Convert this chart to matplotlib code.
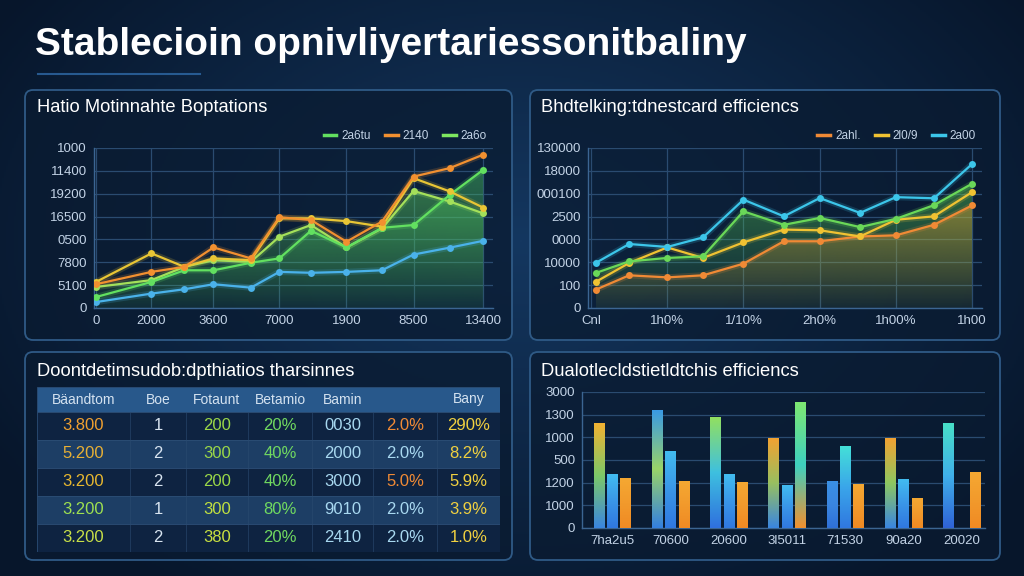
import numpy as np
import matplotlib
matplotlib.use("Agg")
import matplotlib.pyplot as plt
from matplotlib.patches import FancyBboxPatch, Rectangle, Polygon
from matplotlib.colors import LinearSegmentedColormap, to_rgb
from matplotlib.lines import Line2D

plt.rcParams['font.family'] = ['Liberation Sans', 'DejaVu Sans']

# ---------------- data ----------------
main_title = "Stablecioin opnivliyertariessonitbaliny"

p1_title = "Hatio Motinnahte Boptations"
p1_x = [0, 0.86, 1.37, 1.82, 2.40, 2.84, 3.33, 3.88, 4.43, 4.92, 5.48, 6.00]
p1_orange = [1.04, 1.58, 1.80, 2.65, 2.17, 3.97, 3.85, 2.90, 3.78, 5.75, 6.12, 6.71]
p1_yellow = [1.14, 2.39, 1.80, 2.17, 2.09, 3.92, 3.92, 3.80, 3.56, 5.68, 5.10, 4.39]
p1_green = [0.48, 1.14, 1.65, 1.65, 1.98, 2.17, 3.38, 2.65, 3.51, 3.63, 4.95, 6.05]
p1_lime = [0.92, 1.22, 1.80, 2.09, 2.02, 3.12, 3.63, 2.65, 3.48, 5.12, 4.66, 4.14]
p1_blue = [0.26, 0.63, 0.82, 1.04, 0.89, 1.58, 1.54, 1.58, 1.65, 2.34, 2.64, 2.94]
p1_xticks = [0, 0.86, 1.82, 2.84, 3.88, 4.92, 6.00]
p1_xlabels = ["0", "2000", "3600", "7000", "1900", "8500", "13400"]
p1_ylabels = ["0", "5100", "7800", "0500", "16500", "19200", "11400", "1000"]
p1_legend = ["2a6tu", "2140", "2a6o"]

p2_title = "Bhdtelking:tdnestcard efficiencs"
p2_x = [0.06, 0.5, 1.0, 1.47, 2.0, 2.53, 3.0, 3.53, 4.0, 4.5, 5.0]
p2_cyan = [1.97, 2.80, 2.67, 3.09, 4.74, 4.01, 4.81, 4.16, 4.85, 4.80, 6.30]
p2_green = [1.53, 2.04, 2.19, 2.26, 4.23, 3.64, 3.94, 3.54, 3.90, 4.50, 5.44]
p2_yellow = [1.14, 1.97, 2.65, 2.19, 2.87, 3.43, 3.40, 3.13, 3.86, 4.01, 5.07]
p2_orange = [0.80, 1.43, 1.34, 1.43, 1.94, 2.92, 2.92, 3.13, 3.18, 3.64, 4.49]
p2_xlabels = ["Cnl", "1h0%", "1/10%", "2h0%", "1h00%", "1h00"]
p2_ylabels = ["0", "100", "10000", "0000", "2500", "000100", "18000", "130000"]
p2_legend = ["2ahl.", "2l0/9", "2a00"]

p3_title = "Doontdetimsudob:dpthiatios tharsinnes"
p3_headers = ["Bäandtom", "Boe", "Fotaunt", "Betamio", "Bamin", "", "Bany"]
p3_col1 = ["3.800", "5.200", "3.200", "3.200", "3.200"]
p3_col2 = ["1", "2", "2", "1", "2"]
p3_col3 = ["200", "300", "200", "300", "380"]
p3_col4 = ["20%", "40%", "40%", "80%", "20%"]
p3_col5 = ["0030", "2000", "3000", "9010", "2410"]
p3_col6 = ["2.0%", "2.0%", "5.0%", "2.0%", "2.0%"]
p3_col7 = ["290%", "8.2%", "5.9%", "3.9%", "1.0%"]

p4_title = "Dualotlecldstietldtchis efficiencs"
p4_groups = ["7ha2u5", "70600", "20600", "3l5011", "71530", "90a20", "20020"]
p4_a = [4.63, 5.18, 4.88, 3.93, 2.03, 3.93, 4.63]
p4_b = [2.38, 3.37, 2.38, 1.87, 3.59, 2.13, np.nan]
p4_c = [2.18, 2.03, 2.01, 5.54, 1.94, 1.32, 2.46]
p4_ylabels = ["0", "1000", "1200", "500", "1000", "1300", "3000"]

# ---------------- style ----------------
W, H = 1024, 576
TXT = '#c3d3e6'
GRID = '#2a4b70'
SPINE = '#3b6592'

fig = plt.figure(figsize=(W / 100, H / 100), dpi=100)

# background
bg = fig.add_axes([0, 0, 1, 1])
yy, xx = np.mgrid[0:H:2, 0:W:2]
r = np.sqrt(((xx - 520) / 620.0) ** 2 + ((yy - 240) / 420.0) ** 2)
r = np.clip(r, 0, 1)
c_in = np.array(to_rgb('#143760'))
c_out = np.array(to_rgb('#07162b'))
img = c_in[None, None, :] * (1 - r[..., None]) + c_out[None, None, :] * r[..., None]
bg.imshow(img, extent=[0, W, H, 0], aspect='auto', zorder=0)
bg.set_xlim(0, W)
bg.set_ylim(H, 0)
bg.axis('off')

def px_axes(x0, y0, x1, y1):
    return fig.add_axes([x0 / W, 1 - y1 / H, (x1 - x0) / W, (y1 - y0) / H])

# panels
for (x0, y0, x1, y1) in [(25, 90, 512, 340), (530, 90, 1000, 340),
                         (25, 352, 512, 560), (530, 352, 1000, 560)]:
    bg.add_patch(FancyBboxPatch((x0, y0), x1 - x0, y1 - y0,
                                boxstyle="round,pad=0,rounding_size=8",
                                facecolor='#0a1b31', alpha=0.75,
                                edgecolor='none', zorder=2))
    bg.add_patch(FancyBboxPatch((x0, y0), x1 - x0, y1 - y0,
                                boxstyle="round,pad=0,rounding_size=8",
                                facecolor='none', edgecolor='#2f5a86',
                                linewidth=1.3, zorder=3))

bg.text(35, 45, main_title, color='white', fontsize=28, fontweight='bold',
        va='center', ha='left', zorder=5)
bg.plot([38, 200], [74, 74], color='#2f6aa8', lw=1.5, alpha=0.8, zorder=5)

for (tx, ty, t) in [(37, 108, p1_title), (541, 108, p2_title),
                    (37, 371, p3_title), (541, 371, p4_title)]:
    bg.text(tx, ty, t, color='white', fontsize=13.2, va='center', ha='left', zorder=5)


def grad_fill(ax, x, y, color, a_top, a_bot, z=1):
    x = np.asarray(x, float)
    y = np.asarray(y, float)
    im_arr = np.zeros((256, 1, 4))
    im_arr[:, :, :3] = to_rgb(color)
    im_arr[:, 0, 3] = np.linspace(a_bot, a_top, 256)
    im = ax.imshow(im_arr, aspect='auto', origin='lower',
                   extent=[x.min(), x.max(), 0, y.max()], zorder=z)
    verts = np.vstack([[x[0], 0], np.column_stack([x, y]), [x[-1], 0]])
    poly = Polygon(verts, closed=True, facecolor='none', edgecolor='none')
    ax.add_patch(poly)
    im.set_clip_path(poly)


def glow_line(ax, x, y, color, z=4, label=None, ms=5):
    ax.plot(x, y, color=color, lw=4.5, alpha=0.18, zorder=z, solid_capstyle='round')
    ax.plot(x, y, color=color, lw=1.6, zorder=z + 0.1, marker='o', ms=ms,
            markeredgewidth=0, label=label)


def style_axes(ax, ylabels):
    ax.set_facecolor('none')
    for s in ['top', 'right']:
        ax.spines[s].set_visible(False)
    for s in ['left', 'bottom']:
        ax.spines[s].set_color(SPINE)
        ax.spines[s].set_linewidth(1.0)
    ax.tick_params(length=0, colors=TXT, labelsize=9.5, pad=5)
    ax.set_yticks(range(len(ylabels)))
    ax.set_yticklabels(ylabels)
    ax.grid(True, color=GRID, lw=0.9)
    ax.set_axisbelow(True)

# ---------------- panel 1 ----------------
ax1 = px_axes(94, 148, 493, 308)
style_axes(ax1, p1_ylabels)
grad_fill(ax1, p1_x, p1_lime, '#5ed45a', 0.45, 0.05)
grad_fill(ax1, p1_x, p1_green, '#4cc860', 0.45, 0.05)
glow_line(ax1, p1_x, p1_blue, '#4ab2ea')
glow_line(ax1, p1_x, p1_lime, '#a4e05a')
glow_line(ax1, p1_x, p1_green, '#62e060', label=p1_legend[0])
glow_line(ax1, p1_x, p1_yellow, '#e8c535')
glow_line(ax1, p1_x, p1_orange, '#f29030', label=p1_legend[1])
ax1.set_xticks(p1_xticks)
ax1.set_xticklabels(p1_xlabels)
ax1.set_xlim(-0.03, 6.15)
ax1.set_ylim(0, 7)
h1 = [Line2D([0], [0], color=c, lw=2.5) for c in ['#62e060', '#f29030', '#7ee860']]
ax1.legend(h1, p1_legend, loc='lower right', bbox_to_anchor=(1.0, 1.0), ncol=3,
           frameon=False, fontsize=8.5, labelcolor=TXT, handlelength=1.1,
           columnspacing=1.2, handletextpad=0.4, borderaxespad=0.1)

# ---------------- panel 2 ----------------
ax2 = px_axes(588, 148, 982, 308)
style_axes(ax2, p2_ylabels)
grad_fill(ax2, p2_x, p2_green, '#58c850', 0.45, 0.05)
grad_fill(ax2, p2_x, p2_orange, '#e0a030', 0.45, 0.04)
glow_line(ax2, p2_x, p2_orange, '#f08a35')
glow_line(ax2, p2_x, p2_yellow, '#f0c232')
glow_line(ax2, p2_x, p2_green, '#6ad858')
glow_line(ax2, p2_x, p2_cyan, '#3cc6ea')
ax2.set_xticks(range(len(p2_xlabels)))
ax2.set_xticklabels(p2_xlabels)
ax2.set_xlim(-0.04, 5.13)
ax2.set_ylim(0, 7)
h2 = [Line2D([0], [0], color=c, lw=2.5) for c in ['#f08a35', '#f0c232', '#3cc6ea']]
ax2.legend(h2, p2_legend, loc='lower right', bbox_to_anchor=(1.0, 1.0), ncol=3,
           frameon=False, fontsize=8.5, labelcolor=TXT, handlelength=1.1,
           columnspacing=1.2, handletextpad=0.4, borderaxespad=0.1)

# ---------------- panel 3 (table) ----------------
ax3 = px_axes(37, 387, 500, 552)
ax3.axis('off')
col_edges = [0, 93, 149, 211, 275, 336, 400, 463]
n_rows = len(p3_col1)
row_h = [25] + [28] * n_rows
row_top = np.concatenate([[0], np.cumsum(row_h)])
ax3.set_xlim(0, col_edges[-1])
ax3.set_ylim(row_top[-1], 0)
row_colors = ['#28588b', '#0e2341', '#1d3e65', '#0e2341', '#1d3e65', '#0e2341']
for i in range(n_rows + 1):
    ax3.add_patch(Rectangle((0, row_top[i]), col_edges[-1], row_h[i],
                            facecolor=row_colors[i], edgecolor='#2b4d75', lw=0.6))
for e in col_edges[1:-1]:
    ax3.plot([e, e], [row_h[0], row_top[-1]], color='#2a4a70', lw=0.6, alpha=0.7)
centers = [(col_edges[k] + col_edges[k + 1]) / 2 for k in range(7)]
for k, htxt in enumerate(p3_headers):
    ax3.text(centers[k], row_h[0] / 2, htxt, color='#d4e2f0', fontsize=10,
             ha='center', va='center')
cols = [p3_col1, p3_col2, p3_col3, p3_col4, p3_col5, p3_col6, p3_col7]
cell_colors = [
    ['#f0a030', '#e8b035', '#e8b830', '#9ee050', '#c8e048'],
    ['#d8e4f0'] * 5,
    ['#9ad848', '#9ad848', '#9ad848', '#c0e040', '#c8e040'],
    ['#70d860'] * 5,
    ['#a8d8f0'] * 5,
    ['#f08a35', '#a8d8f0', '#f08a35', '#a8d8f0', '#a8d8f0'],
    ['#f0d040'] * 5,
]
for k, col in enumerate(cols):
    for i, val in enumerate(col):
        ax3.text(centers[k], row_top[i + 1] + row_h[i + 1] / 2, val,
                 color=cell_colors[k][i], fontsize=12, ha='center', va='center')

# ---------------- panel 4 (bars) ----------------
ax4 = px_axes(582, 392, 985, 528)
style_axes(ax4, p4_ylabels)
ax4.grid(False)
ax4.grid(True, axis='y', color=GRID, lw=0.9)
ax4.set_xlim(-0.52, 6.4)
ax4.set_ylim(0, 6)
bw = 0.18
off = 0.23
grad_a = [['#f2b232', '#7cc868', '#3a86e0'],
          ['#3a9ae4', '#9ad468', '#3480e0'],
          ['#92e060', '#3ec0e0', '#2f70de'],
          ['#f2a232', '#98c060', '#3a86e0'],
          ['#3a90e4', '#3a86e0', '#2f70d8'],
          ['#f2a232', '#8ec860', '#3a86e0'],
          ['#48e0c8', '#40b0ea', '#2f62d6']]
grad_b = [['#42bcf0', '#3a96e8', '#3078e0']] * 4 + \
         [['#44e0d8', '#3aa6ea', '#3078e0']] + [['#42bcf0', '#3a96e8', '#3078e0']] * 2
grad_c = [['#f5a832', '#f29a2c', '#f08a24']] * 3 + \
         [['#7ee872', '#3ed0c0', '#f09030']] + [['#f5a832', '#f29a2c', '#f08a24']] * 3


def grad_bar(ax, xc, h, cols_tb):
    if not np.isfinite(h):
        return
    cmap = LinearSegmentedColormap.from_list('g', cols_tb[::-1])
    g = np.linspace(0, 1, 128).reshape(-1, 1)
    ax.imshow(g, cmap=cmap, aspect='auto', origin='lower',
              extent=[xc - bw / 2, xc + bw / 2, 0, h], zorder=3)

for i in range(len(p4_groups)):
    grad_bar(ax4, i - off, p4_a[i], grad_a[i])
    grad_bar(ax4, i, p4_b[i], grad_b[i])
    grad_bar(ax4, i + off, p4_c[i], grad_c[i])
ax4.set_xticks(range(len(p4_groups)))
ax4.set_xticklabels(p4_groups)
ax4.set_xlim(-0.52, 6.4)
ax4.set_ylim(0, 6)

fig.savefig('out.png', dpi=100, facecolor='#0a1a30')
